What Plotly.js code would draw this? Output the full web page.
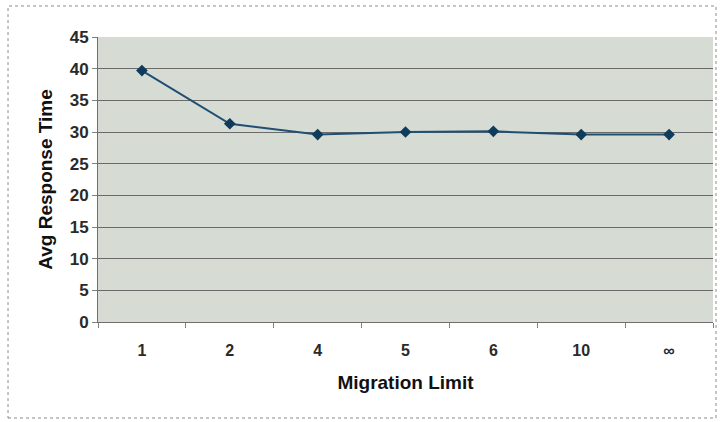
<!DOCTYPE html>
<html>
<head>
<meta charset="utf-8">
<script src="https://cdn.plot.ly/plotly-3.0.1.min.js"></script>
<style>
  html, body { margin: 0; padding: 0; background: #ffffff; }
  #chart { width: 720px; height: 422px; }
</style>
</head>
<body>
<div id="chart"></div>
<script>
// Migration limit settings on the category axis
const migrationLimits = ["1", "2", "4", "5", "6", "10", "\u221e"];
// Average response time for each limit
const avgResponseTime = [39.7, 31.3, 29.6, 30.0, 30.1, 29.6, 29.6];
const yTicks = [0, 5, 10, 15, 20, 25, 30, 35, 40, 45];

const trace = {
  type: "scatter",
  mode: "lines+markers",
  x: migrationLimits,
  y: avgResponseTime,
  line: { color: "#1f4f73", width: 2 },
  marker: { symbol: "diamond", size: 9, color: "#0f3b5c" },
  hoverinfo: "x+y"
};

const layout = {
  width: 720,
  height: 422,
  margin: { l: 98, r: 7, t: 37, b: 100 },
  paper_bgcolor: "#ffffff",
  plot_bgcolor: "#d6dcd4",
  showlegend: false,
  font: { family: "Liberation Sans, Arial, sans-serif", color: "#1a1a1a" },
  xaxis: {
    type: "category",
    range: [-0.5, migrationLimits.length - 0.5],
    tickson: "boundaries",
    ticks: "outside",
    ticklen: 5,
    tickcolor: "#808080",
    ticklabelstandoff: 14,
    showline: true,
    linecolor: "#6e6e6e",
    linewidth: 1,
    showgrid: false,
    zeroline: false,
    tickfont: { size: 16, family: "Liberation Sans, Arial, sans-serif", weight: "bold", color: "#2a2a2a" },
    title: { text: "Migration Limit", font: { size: 19, weight: "bold", color: "#111111" }, standoff: 17 }
  },
  yaxis: {
    range: [0, 45],
    tickvals: yTicks,
    ticks: "outside",
    ticklen: 5,
    tickcolor: "#808080",
    showline: true,
    linecolor: "#6e6e6e",
    linewidth: 1,
    showgrid: true,
    gridcolor: "#6a6a6a",
    gridwidth: 1,
    zeroline: false,
    tickfont: { size: 17, family: "Liberation Sans, Arial, sans-serif", weight: "bold", color: "#2a2a2a" },
    title: { text: "Avg Response Time", font: { size: 19, weight: "bold", color: "#111111" }, standoff: 12 }
  },
  shapes: [
    {
      type: "rect", xref: "paper", yref: "paper",
      x0: -0.1463, x1: 1.0049, y0: -0.3368, y1: 1.1088,
      line: { color: "#8a8a8a", width: 1, dash: "dot" },
      fillcolor: "rgba(0,0,0,0)", layer: "below"
    }
  ]
};

Plotly.newPlot("chart", [trace], layout, { displayModeBar: false, staticPlot: true });
</script>
</body>
</html>
